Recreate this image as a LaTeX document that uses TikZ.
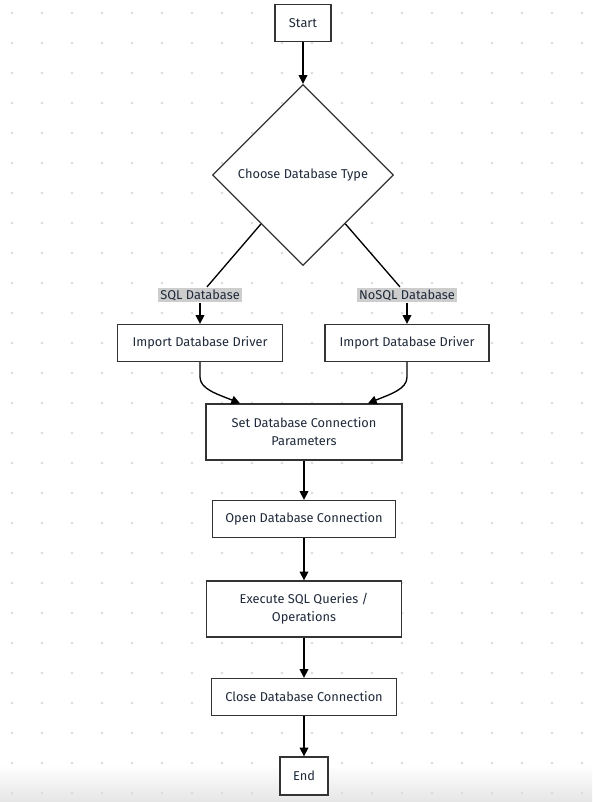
\documentclass[tikz,border=0pt]{standalone}
\usepackage{fontspec}
\setmainfont{Fira Sans}
\usetikzlibrary{shapes.geometric,arrows.meta,positioning}
\definecolor{boxline}{HTML}{333333}
\definecolor{txt}{HTML}{1F2A3A}
\definecolor{dotgray}{HTML}{DADADA}
\definecolor{lblgray}{HTML}{CDCDCD}

\begin{document}
\begin{tikzpicture}[x=0.75pt,y=-0.75pt,line width=1pt,>={Triangle[length=6.5pt,width=6.5pt]},
    main/.style={draw=boxline,fill=white,text=txt,font=\fontsize{9.6}{13.5}\selectfont,align=center,minimum height=27.75pt,inner sep=2pt},
    tall/.style={main,minimum height=42pt},
    choice/.style={main,diamond,aspect=1,minimum width=135.75pt,minimum height=135.75pt,inner sep=0pt},
    lbl/.style={fill=lblgray,text=txt,font=\fontsize{9.6}{10}\selectfont,inner sep=1.5pt}]
  \useasboundingbox (0,0) rectangle (592,802);
  \shade[top color=white,bottom color=black!10] (0,765) rectangle (592,802);
  \foreach \i in {0,...,19}
    \foreach \j in {0,...,26}
      \fill[dotgray] (12+30*\i,13+30*\j) circle (1.3);

  \node[main,minimum width=42pt] (n_start) at (303,23) {Start};
  \node[choice] (n_type) [below of=n_start,node distance=114pt] {Choose Database Type};
  \node[lbl] (l_sql) at (200,295) {SQL Database};
  \node[lbl] (l_nosql) at (407,295) {NoSQL Database};
  \node[main,minimum width=123.75pt] (n_drv_sql) at (200,343) {Import Database Driver};
  \node[main,minimum width=123pt] (n_drv_nosql) at (407,343) {Import Database Driver};
  \node[tall,minimum width=147pt] (n_params) at (304,432) {Set Database Connection\\Parameters};
  \node[main,minimum width=137.25pt] (n_open) [below of=n_params,node distance=65.25pt] {Open Database Connection};
  \node[tall,minimum width=146.25pt] (n_exec) [below of=n_open,node distance=67.5pt] {Execute SQL Queries /\\Operations};
  \node[main,minimum width=138.75pt] (n_close) [below of=n_exec,node distance=66pt] {Close Database Connection};
  \node[main,minimum width=36pt,minimum height=28.5pt] (n_end) [below of=n_close,node distance=59.25pt] {End};

  \draw[->] (n_start) -- (n_type);
  \draw (n_type) -- (l_sql);
  \draw (n_type) -- (l_nosql);
  \draw[->] (l_sql) -- (n_drv_sql);
  \draw[->] (l_nosql) -- (n_drv_nosql);
  \draw[->] (n_drv_sql.south) -- ++(0,15) .. controls +(0,12) and +(-22,-9) .. ([xshift=-48pt]n_params.north);
  \draw[->] (n_drv_nosql.south) -- ++(0,15) .. controls +(0,12) and +(22,-9) .. ([xshift=48pt]n_params.north);
  \draw[->] (n_params) -- (n_open);
  \draw[->] (n_open) -- (n_exec);
  \draw[->] (n_exec) -- (n_close);
  \draw[->] (n_close) -- (n_end);
\end{tikzpicture}
\end{document}
